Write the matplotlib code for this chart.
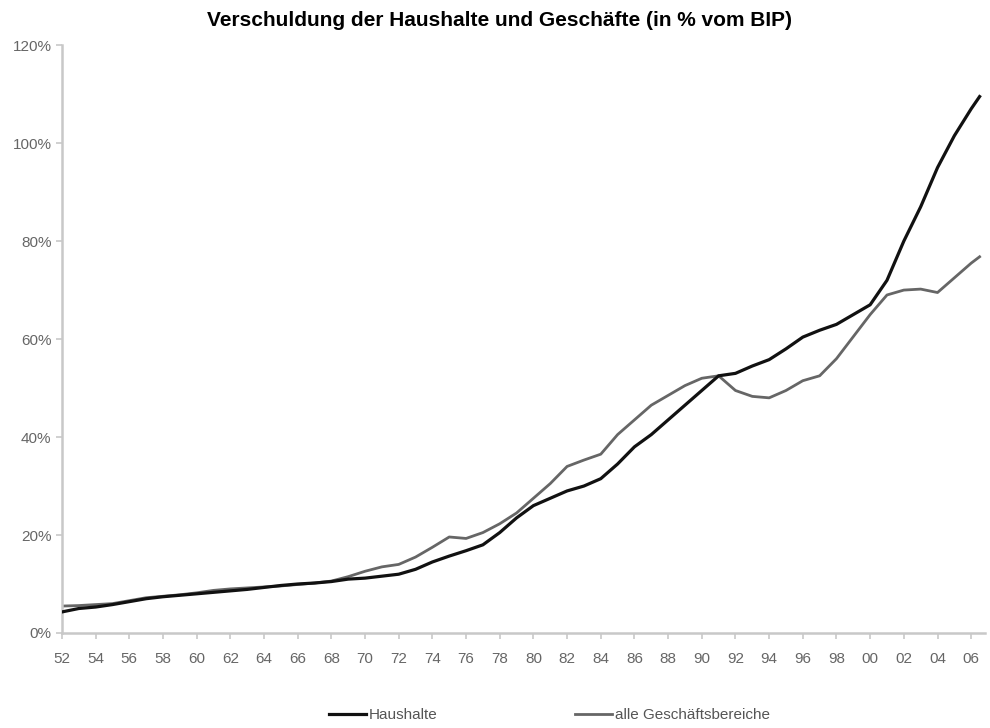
import matplotlib
matplotlib.use("Agg")
import matplotlib.pyplot as plt
import numpy as np

plt.rcParams['font.family'] = ['Liberation Sans', 'DejaVu Sans']

# Jahre (x) und Verschuldung in % vom BIP
years = [1952, 1953, 1954, 1955, 1956, 1957, 1958, 1959, 1960, 1961,
         1962, 1963, 1964, 1965, 1966, 1967, 1968, 1969, 1970, 1971,
         1972, 1973, 1974, 1975, 1976, 1977, 1978, 1979, 1980, 1981,
         1982, 1983, 1984, 1985, 1986, 1987, 1988, 1989, 1990, 1991,
         1992, 1993, 1994, 1995, 1996, 1997, 1998, 1999, 2000, 2001,
         2002, 2003, 2004, 2005, 2006, 2006.5]

haushalte = [4.3, 5.0, 5.3, 5.8, 6.4, 7.0, 7.4, 7.7, 8.0, 8.3,
             8.6, 8.9, 9.3, 9.7, 10.0, 10.2, 10.5, 11.0, 11.2, 11.6,
             12.0, 13.0, 14.5, 15.7, 16.8, 18.0, 20.5, 23.5, 26.0, 27.5,
             29.0, 30.0, 31.5, 34.5, 38.0, 40.5, 43.5, 46.5, 49.5, 52.5,
             53.0, 54.5, 55.8, 58.0, 60.4, 61.8, 63.0, 65.0, 67.0, 72.0,
             80.0, 87.0, 95.0, 101.5, 107.0, 109.5]

geschaefte = [5.5, 5.6, 5.8, 6.0, 6.6, 7.2, 7.5, 7.8, 8.2, 8.7,
              9.0, 9.2, 9.4, 9.6, 9.9, 10.2, 10.6, 11.5, 12.6, 13.5,
              14.0, 15.5, 17.5, 19.6, 19.3, 20.5, 22.3, 24.5, 27.5, 30.5,
              34.0, 35.3, 36.5, 40.5, 43.5, 46.5, 48.5, 50.5, 52.0, 52.5,
              49.5, 48.3, 48.0, 49.5, 51.5, 52.5, 56.0, 60.5, 65.0, 69.0,
              70.0, 70.2, 69.5, 72.5, 75.5, 76.8]

tick_years = list(range(1952, 2007, 2))
tick_labels = ["%02d" % (y % 100) for y in tick_years]
y_ticks = [0, 20, 40, 60, 80, 100, 120]

fig = plt.figure(figsize=(9.9, 7.28), dpi=100)
ax = fig.add_axes([0.0626, 0.1305, 0.932, 0.8075])

ax.plot(years, geschaefte, color='#666666', lw=2.0, label='alle Geschäftsbereiche', zorder=2)
ax.plot(years, haushalte, color='#111111', lw=2.3, label='Haushalte', zorder=3)

ax.set_xlim(1952, 2006.8)
ax.set_ylim(0, 120)
ax.set_xticks(tick_years)
ax.set_xticklabels(tick_labels)
ax.set_yticks(y_ticks)
ax.set_yticklabels(["%d%%" % v for v in y_ticks])

for s in ['top', 'right']:
    ax.spines[s].set_visible(False)
for s in ['left', 'bottom']:
    ax.spines[s].set_color('#c8c8c8')
    ax.spines[s].set_linewidth(1.8)
ax.tick_params(axis='both', colors='#c8c8c8', labelcolor='#666666',
               labelsize=11, length=4, width=1.2)
ax.tick_params(axis='x', pad=10)

fig.suptitle('Verschuldung der Haushalte und Geschäfte (in % vom BIP)',
             x=0.505, y=0.985, fontsize=15, fontweight='bold')

h, l = ax.get_legend_handles_labels()
fig.legend([h[1], h[0]], [l[1], l[0]], loc='center', bbox_to_anchor=(0.555, 0.018),
           ncol=2, frameon=False, fontsize=11, columnspacing=9,
           handlelength=2.4, handletextpad=0.2, labelcolor='#555555')

fig.savefig('out.png', dpi=100)
